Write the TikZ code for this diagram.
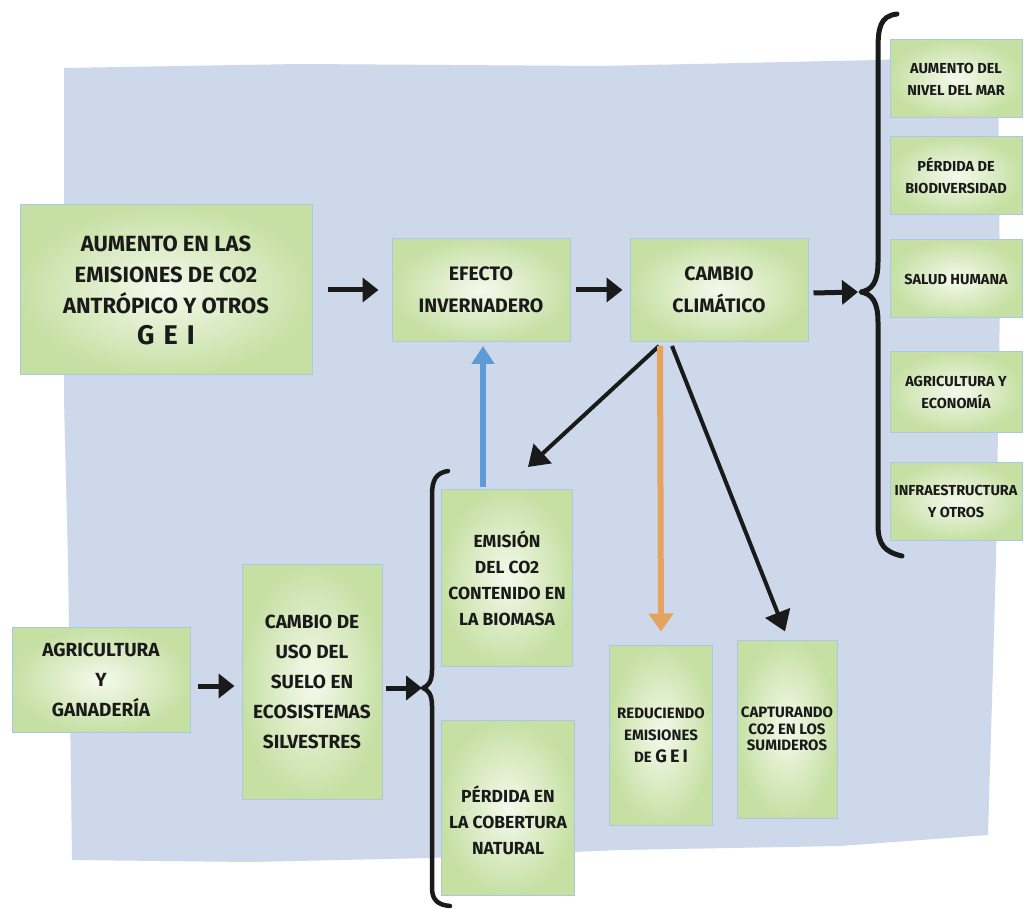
\documentclass[tikz,border=0pt]{standalone}
\usepackage{fontspec}
\setmainfont{Fira Sans}
\usetikzlibrary{arrows.meta,calc}
\definecolor{bgblue}{HTML}{CDD8EA}
\definecolor{cardin}{HTML}{F5F9EC}
\definecolor{cardout}{HTML}{C6E0A4}
\definecolor{cardedge}{HTML}{A9C9E3}
\definecolor{arrblue}{HTML}{5E9BD6}
\definecolor{arrorange}{HTML}{E4A35E}
\definecolor{ink}{HTML}{1A1A1A}
\begin{document}
\begin{tikzpicture}[x=1pt,y=-1pt,
  card/.style={draw=cardedge, line width=1pt, inner color=cardin, outer color=cardout, align=center, inner sep=0pt, text=ink},
  txt/.style={align=center, inner sep=0pt, text=ink},
  fA/.style={font=\bfseries\fontsize{22}{31}\selectfont},
  fB/.style={font=\bfseries\fontsize{19.5}{32}\selectfont},
  fC/.style={font=\bfseries\fontsize{14.5}{22}\selectfont},
  fD/.style={font=\bfseries\fontsize{19}{30}\selectfont},
  fE/.style={font=\bfseries\fontsize{17.5}{26}\selectfont},
  fF/.style={font=\bfseries\fontsize{15}{22}\selectfont},
  fG/.style={font=\bfseries\fontsize{15}{16.5}\selectfont},
  flow/.style={draw=ink, line width=5pt, -{Triangle[length=16pt,width=24pt]}},
  diag/.style={draw=ink, line width=4pt, -{Triangle[length=20pt,width=26pt]}},
  blueflow/.style={draw=arrblue, line width=6pt, -{Triangle[length=18pt,width=22pt]}},
  orangeflow/.style={draw=arrorange, line width=6pt, -{Triangle[length=18pt,width=24pt]}},
  brace/.style={draw=ink, line width=5pt, line cap=round, line join=round}
]
\useasboundingbox (0,0) rectangle (1026,909);
\fill[white] (0,0) rectangle (1026,909);
% background patch
\fill[bgblue] (64,68) -- (300,64) -- (600,66) -- (880,60) -- (998,52) -- (1000,300) -- (996,560)
  -- (992,700) -- (988,835) -- (840,846) -- (620,850) -- (430,858) -- (250,862) -- (72,860)
  -- (70,700) -- (68,560) -- (64,400) -- cycle;

% main row
\node[card, fA, minimum width=292, minimum height=170] (aum) at (166,290)
  {AUMENTO EN LAS\\EMISIONES DE CO2\\ANTRÓPICO Y OTROS\\{\fontsize{27}{31}\selectfont G\,\,E\,\,I}};
\node[card, fB, minimum width=178, minimum height=103] (ef) at (481,290)
  {EFECTO\\INVERNADERO};
\node[card, fB, minimum width=178, minimum height=103] (cc) at (719,290)
  {CAMBIO\\CLIMÁTICO};

% right column
\node[card, fC, minimum width=132, minimum height=78] (mar) at (956,79)
  {AUMENTO DEL\\NIVEL DEL MAR};
\node[card, fC, minimum width=132, minimum height=78] (bio) at (956,176)
  {PÉRDIDA DE\\BIODIVERSIDAD};
\node[card, fC, minimum width=132, minimum height=78] (sal) at (956,279)
  {SALUD HUMANA};
\node[card, fC, minimum width=132, minimum height=80] (eco) at (956,392)
  {AGRICULTURA Y\\ECONOMÍA};
\node[card, fC, minimum width=132, minimum height=78] (inf) at (956,501)
  {INFRAESTRUCTURA\\Y OTROS};

% brace right
\coordinate (b1) at (861,292);
\draw[brace] (897,14) .. controls (880,16) and (878,28) .. (878,50) -- (878,262)
  .. controls (878,282) and (872,290) .. (b1) .. controls (872,294) and (878,302) .. (878,322)
  -- (878,525) .. controls (878,545) and (885,552) .. (902,556);

% bottom left
\node[card, fD, minimum width=178, minimum height=105] (agr) at (101,680)
  {AGRICULTURA\\Y\\GANADERÍA};
\node[card, fD, minimum width=140, minimum height=235] (cus) at (312,682)
  {CAMBIO DE\\USO DEL\\SUELO EN\\ECOSISTEMAS\\SILVESTRES};

% brace bottom
\coordinate (b2) at (423,688);
\draw[brace, line width=4.5pt] (448,471) .. controls (436,473) and (432,480) .. (432,495) -- (432,670)
  .. controls (432,682) and (428,686) .. (b2) .. controls (428,690) and (432,694) .. (432,706)
  -- (432,888) .. controls (432,900) and (438,905) .. (450,906);

\node[card, fE, minimum width=131, minimum height=177] (em) at (507,578)
  {EMISIÓN\\DEL CO2\\CONTENIDO EN\\LA BIOMASA};
\node[card, minimum width=133, minimum height=175] (per) at (508,808) {};
\node[txt, fE] (pert) at (508,820) {PÉRDIDA EN\\LA COBERTURA\\NATURAL};

\node[card, fF, minimum width=103, minimum height=180] (red) at (661,735)
  {REDUCIENDO\\EMISIONES\\DE {\fontsize{18}{22}\selectfont G\,E\,I}};
\node[card, fG, minimum width=100, minimum height=178] (cap) at (787,729)
  {CAPTURANDO\\CO2 EN LOS\\SUMIDEROS};

% connectors
\draw[flow] ([xshift=15pt]aum.east) -- ([xshift=-13pt]ef.west);
\draw[flow] ([xshift=5pt]ef.east) -- ([xshift=-7pt]cc.west);
\draw[flow] ([xshift=5pt,yshift=-3pt]cc.east) -- ([xshift=-3pt]b1);
\draw[flow] ([xshift=7pt,yshift=-6pt]agr.east) -- ([xshift=-7pt,yshift=-4pt]cus.west);
\draw[flow] ([xshift=3pt,yshift=-6pt]cus.east) -- ([xshift=-1pt]b2);
\draw[blueflow] ([xshift=-24pt,yshift=2pt]em.north) -- ([xshift=2pt,yshift=-4pt]ef.south);
\draw[diag] ([xshift=-60pt,yshift=-4pt]cc.south) -- ([xshift=21pt,yshift=22pt]em.north);
\draw[orangeflow] ([xshift=-59pt,yshift=-4pt]cc.south) -- ([yshift=13pt]red.north);
\draw[diag] ([xshift=-47pt,yshift=-4pt]cc.south) -- ([xshift=-2pt,yshift=8pt]cap.north);
\end{tikzpicture}
\end{document}
